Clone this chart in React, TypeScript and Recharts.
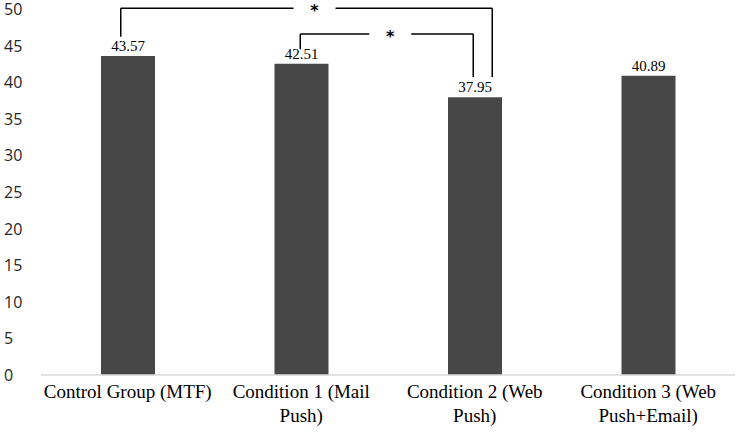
import React from 'react';
import { BarChart, Bar, XAxis, YAxis, LabelList, ReferenceLine } from 'recharts';

const labelLines = [
  ['Control Group (MTF)'],
  ['Condition 1 (Mail', 'Push)'],
  ['Condition 2 (Web', 'Push)'],
  ['Condition 3 (Web', 'Push+Email)'],
];
const categories = labelLines.map((l) => l.join(' '));
const scores = [43.57, 42.51, 37.95, 40.89];
const yTicks = [0, 5, 10, 15, 20, 25, 30, 35, 40, 45, 50];

// significance brackets (category index + heights in score units)
const brackets = [
  { from: 0, to: 2, top: 50.1, fromEnd: 46.2, toEnd: 40.7, mark: '*' },
  { from: 1, to: 2, top: 46.6, fromEnd: 44.5, toEnd: 40.7, mark: '*' },
];
// pixel nudges for the bracket legs / star
const bracketNudge = [
  { dxFrom: -7, dxTo: 17.5, starDx: 8 },
  { dxFrom: -1, dxTo: -1.5, starDx: 3.5 },
];

const data = categories.map((name, i) => ({ name, score: scores[i] }));

const SERIF = '"Liberation Serif", "Times New Roman", serif';
const INK = '#000';

const YTick = ({ y, payload }: any) => (
  <text x={4} y={y} dy={6} style={{ fontFamily: '"Open Sans", sans-serif', fontSize: 16 }} fill="#262626">
    {payload.value}
  </text>
);

const XTick = ({ x, y, payload }: any) => {
  const lines = labelLines[categories.indexOf(payload.value)] || [payload.value];
  return (
    <text x={x} y={y} textAnchor="middle" style={{ fontFamily: SERIF, fontSize: 19 }} fill={INK}>
      {lines.map((l, i) => (
        <tspan key={i} x={x} dy={i === 0 ? 15 : 24}>{l}</tspan>
      ))}
    </text>
  );
};

const legShape = (dx: number) => (p: any) => (
  <line x1={p.x1 + dx} y1={p.y1} x2={p.x2 + dx} y2={p.y2} stroke={INK} strokeWidth={1.5} />
);

const topShape = (dxFrom: number, dxTo: number, starDx: number, mark: string) => (p: any) => {
  const left = p.x1 + dxFrom;
  const right = p.x2 + dxTo;
  const cx = (left + right) / 2 + starDx;
  const gap = 21;
  return (
    <g>
      <line x1={left} y1={p.y1} x2={cx - gap} y2={p.y1} stroke={INK} strokeWidth={1.5} />
      <line x1={cx + gap} y1={p.y1} x2={right} y2={p.y1} stroke={INK} strokeWidth={1.5} />
      <text x={cx} y={p.y1 + 8} textAnchor="middle" style={{ fontFamily: '"DejaVu Sans", sans-serif', fontSize: 16, fontWeight: 'bold' }} fill={INK}>
        {mark}
      </text>
    </g>
  );
};

export default function App() {
  return (
    <div style={{ position: 'absolute', left: 0, top: 0, background: '#fff' }}>
      <BarChart width={740} height={433} data={data} margin={{ top: 9, right: 5, bottom: 0, left: 0 }}>
        <XAxis
          dataKey="name"
          height={58}
          interval={0}
          tickLine={false}
          axisLine={{ stroke: '#d9d9d9', strokeWidth: 1.5 }}
          tick={<XTick />}
        />
        <YAxis
          width={41}
          domain={[0, 50]}
          ticks={yTicks}
          axisLine={false}
          tickLine={false}
          tick={<YTick />}
        />
        <Bar dataKey="score" fill="#474747" barSize={54} isAnimationActive={false}>
          <LabelList
            dataKey="score"
            position="top"
            offset={5}
            fill={INK}
            style={{ fontFamily: SERIF, fontSize: 15 }}
          />
        </Bar>
        {brackets.map((b, i) => {
          const n = bracketNudge[i];
          const a = categories[b.from];
          const c = categories[b.to];
          return [
            <ReferenceLine
              key={`l${i}`}
              ifOverflow="visible"
              segment={[{ x: a, y: b.fromEnd }, { x: a, y: b.top }]}
              shape={legShape(n.dxFrom)}
            />,
            <ReferenceLine
              key={`r${i}`}
              ifOverflow="visible"
              segment={[{ x: c, y: b.toEnd }, { x: c, y: b.top }]}
              shape={legShape(n.dxTo)}
            />,
            <ReferenceLine
              key={`t${i}`}
              ifOverflow="visible"
              segment={[{ x: a, y: b.top }, { x: c, y: b.top }]}
              shape={topShape(n.dxFrom, n.dxTo, n.starDx, b.mark)}
            />,
          ];
        })}
      </BarChart>
    </div>
  );
}
